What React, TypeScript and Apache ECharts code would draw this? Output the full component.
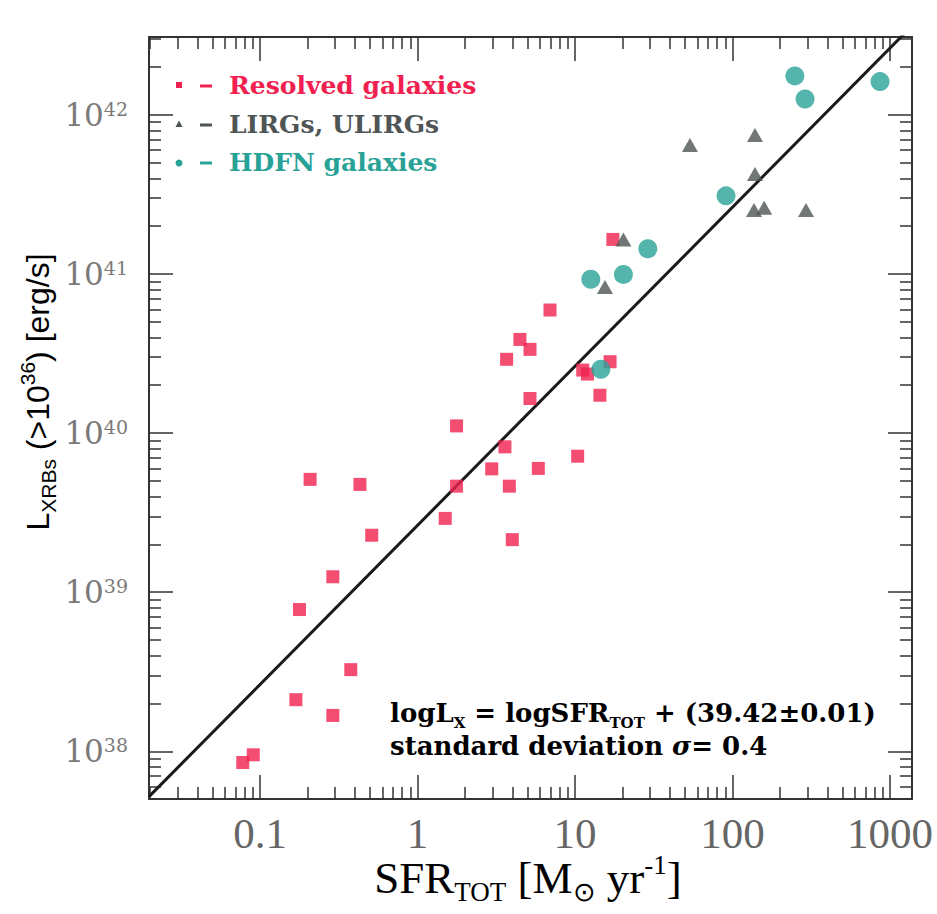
import React, { useEffect, useRef } from "react";
import * as echarts from "echarts";

// ---------------- data ----------------
const resolvedSFR = [6.94, 4.47, 5.18, 3.68, 16.7, 11.2, 12.0, 14.4, 5.18, 1.77, 3.59, 10.4, 2.96, 5.85, 0.208, 0.431, 1.77, 3.83, 1.5, 0.512, 4.0, 0.29, 0.178, 0.377, 0.169, 0.29, 0.0777, 0.0906, 17.4];
const resolvedLX = [5.94e40, 3.88e40, 3.36e40, 2.91e40, 2.81e40, 2.49e40, 2.35e40, 1.73e40, 1.65e40, 1.11e40, 8.2e39, 7.16e39, 5.96e39, 6.0e39, 5.12e39, 4.76e39, 4.64e39, 4.64e39, 2.91e39, 2.28e39, 2.14e39, 1.25e39, 7.78e38, 3.26e38, 2.11e38, 1.68e38, 8.5e37, 9.5e37, 1.65e41];

const lirgSFR = [53.7, 139, 139, 137, 159, 293, 20.3, 15.5];
const lirgLX = [6.47e41, 7.48e41, 4.26e41, 2.53e41, 2.61e41, 2.53e41, 1.65e41, 8.3e40];

const hdfnSFR = [249, 289, 865, 91, 29, 20.3, 12.6, 14.6];
const hdfnLX = [1.76e42, 1.26e42, 1.62e42, 3.1e41, 1.44e41, 9.95e40, 9.27e40, 2.52e40];

const FIT_SLOPE = 1;
const FIT_INTERCEPT = 39.42;

const xMajorTicks = [0.1, 1, 10, 100, 1000];
const xMajorLabels = ["0.1", "1", "10", "100", "1000"];
const yMajorExponents = [38, 39, 40, 41, 42];

const legendNames = ["Resolved galaxies", "LIRGs, ULIRGs", "HDFN galaxies"];

// axis extents in log10 units
const LOG_X_MIN = -1.705;
const LOG_X_MAX = 3.14;
const LOG_Y_MIN = 37.7;
const LOG_Y_MAX = 42.49;

// ---------------- styling ----------------
const RED = "#f0204f";
const GRAY = "#4e5554";
const TEAL = "#28a296";
const FRAME = "#333333";

function minorLogs(lo: number, hi: number): number[] {
  const out: number[] = [];
  for (let d = Math.floor(lo); d <= Math.ceil(hi); d++) {
    for (let m = 2; m <= 9; m++) {
      const v = d + Math.log10(m);
      if (v > lo && v < hi) out.push(v);
    }
  }
  return out;
}

const toPairs = (xs: number[], ys: number[]) =>
  xs.map((x, i) => [Math.log10(x), Math.log10(ys[i])]);

export default function App() {
  const ref = useRef<HTMLDivElement>(null);

  useEffect(() => {
    if (!ref.current) return;
    const chart = echarts.init(ref.current, null, { renderer: "svg" });

    const xMajorLogs = xMajorTicks.map((v) => Math.log10(v));
    const xMinorLogs = minorLogs(LOG_X_MIN, LOG_X_MAX);
    const yMajorLogs = yMajorExponents.slice();
    const yMinorLogs = minorLogs(LOG_Y_MIN, LOG_Y_MAX);

    const tickStyle = { color: FRAME, width: 1.5 };
    const lineStyle = { color: FRAME, width: 2 };

    const mkX = (position: string, ticks: number[], len: number, labels: boolean, line: boolean) => ({
      type: "value",
      position,
      min: LOG_X_MIN,
      max: LOG_X_MAX,
      axisLine: { show: line, onZero: false, lineStyle },
      axisTick: { show: true, inside: true, length: len, customValues: ticks, lineStyle: tickStyle },
      axisLabel: labels
        ? {
            show: true,
            customValues: xMajorLogs,
            margin: 13,
            fontFamily: "Liberation Serif",
            fontSize: 43,
            color: "#666666",
            formatter: (v: number) => {
              const i = xMajorLogs.findIndex((t) => Math.abs(t - v) < 1e-6);
              return i >= 0 ? xMajorLabels[i] : "";
            },
          }
        : { show: false },
      splitLine: { show: false },
    });

    const mkY = (position: string, ticks: number[], len: number, labels: boolean, line: boolean) => ({
      type: "value",
      position,
      min: LOG_Y_MIN,
      max: LOG_Y_MAX,
      axisLine: { show: line, onZero: false, lineStyle },
      axisTick: { show: true, inside: true, length: len, customValues: ticks, lineStyle: tickStyle },
      axisLabel: labels
        ? {
            show: true,
            customValues: yMajorLogs,
            margin: 21,
            formatter: (v: number) => `{b|10}{s|${Math.round(v)}}`,
            rich: {
              b: { fontFamily: "DejaVu Serif", fontSize: 31, color: "#7a7a7a", verticalAlign: "middle" },
              s: { fontFamily: "DejaVu Serif", fontSize: 19, color: "#7a7a7a", verticalAlign: "top" },
            },
          }
        : { show: false },
      splitLine: { show: false },
    });

    const legendY = [85, 124, 162];
    const legendColors = [RED, GRAY, TEAL];

    const graphic: any[] = [
      // y axis title
      {
        type: "text",
        x: 38,
        y: 392,
        rotation: Math.PI / 2,
        style: {
          text: "{m|L}{sub|XRBs}{m| (>10}{sup|36}{m|) [erg/s]}",
          align: "center",
          verticalAlign: "middle",
          rich: {
            m: { fontFamily: "Liberation Sans", fontSize: 32, lineHeight: 42, color: "#111", verticalAlign: "middle" },
            sub: { fontFamily: "Liberation Sans", fontSize: 21, color: "#111", verticalAlign: "bottom" },
            sup: { fontFamily: "Liberation Sans", fontSize: 21, color: "#111", verticalAlign: "top" },
          },
        },
      },
      // x axis title
      {
        type: "text",
        x: 528,
        y: 878,
        style: {
          text: "{m|SFR}{sub|TOT}{m| [M}{sub|⊙}{m| yr}{sup|-1}{m|]}",
          align: "center",
          verticalAlign: "middle",
          rich: {
            m: { fontFamily: "Liberation Serif", fontSize: 45, lineHeight: 54, color: "#555", verticalAlign: "middle" },
            sub: { fontFamily: "Liberation Serif", fontSize: 27, color: "#555", verticalAlign: "bottom" },
            sup: { fontFamily: "Liberation Serif", fontSize: 27, color: "#555", verticalAlign: "top" },
          },
        },
      },
      // legend markers
      { type: "rect", shape: { x: 176, y: legendY[0] - 3, width: 6, height: 6 }, style: { fill: RED } },
      {
        type: "polygon",
        shape: { points: [[179, legendY[1] - 3.5], [182.5, legendY[1] + 3], [175.5, legendY[1] + 3]] },
        style: { fill: GRAY },
      },
      { type: "circle", shape: { cx: 179, cy: legendY[2] + 1, r: 3.5 }, style: { fill: TEAL } },
      ...legendY.map((y, i) => ({
        type: "line",
        shape: { x1: 200, y1: y + 1, x2: 212, y2: y + 1 },
        style: { stroke: legendColors[i], lineWidth: 3 },
      })),
      ...legendNames.map((name, i) => ({
        type: "text",
        x: 229,
        y: legendY[i],
        style: {
          text: name,
          fontFamily: "DejaVu Serif",
          fontWeight: "bold",
          fontSize: 25,
          fill: legendColors[i],
          verticalAlign: "middle",
        },
      })),
      // fit annotation
      {
        type: "text",
        x: 390,
        y: 713,
        style: {
          text: "{a|logL}{s|X}{a| = logSFR}{s|TOT}{a| + (39.42±0.01)}",
          verticalAlign: "middle",
          rich: {
            a: { fontFamily: "DejaVu Serif", fontWeight: "bold", fontSize: 26, lineHeight: 34, color: "#333", verticalAlign: "middle" },
            s: { fontFamily: "DejaVu Serif", fontWeight: "bold", fontSize: 15, color: "#333", verticalAlign: "bottom" },
          },
        },
      },
      {
        type: "text",
        x: 390,
        y: 746,
        style: {
          text: "{a|standard deviation }{g|σ}{a|= 0.4}",
          verticalAlign: "middle",
          rich: {
            a: { fontFamily: "DejaVu Serif", fontWeight: "bold", fontSize: 26, color: "#333" },
            g: { fontFamily: "DejaVu Serif", fontWeight: "bold", fontStyle: "italic", fontSize: 26, color: "#333" },
          },
        },
      },
    ];

    chart.setOption({
      animation: false,
      backgroundColor: "#ffffff",
      grid: { left: 149, top: 37, width: 763, height: 762, containLabel: false, outerBoundsMode: "none" },
      xAxis: [
        mkX("bottom", xMajorLogs, 24, true, true),
        mkX("bottom", xMinorLogs, 12, false, false),
        mkX("top", xMajorLogs, 24, false, true),
        mkX("top", xMinorLogs, 12, false, false),
      ],
      yAxis: [
        mkY("left", yMajorLogs, 24, true, true),
        mkY("left", yMinorLogs, 12, false, false),
        mkY("right", yMajorLogs, 24, false, true),
        mkY("right", yMinorLogs, 12, false, false),
      ],
      graphic,
      series: [
        {
          name: "fit",
          type: "line",
          xAxisIndex: 0,
          yAxisIndex: 0,
          showSymbol: false,
          clip: true,
          lineStyle: { color: "#1a1a1a", width: 3 },
          data: [
            [LOG_X_MIN, FIT_SLOPE * LOG_X_MIN + FIT_INTERCEPT],
            [LOG_X_MAX, FIT_SLOPE * LOG_X_MAX + FIT_INTERCEPT],
          ],
          z: 1,
        },
        {
          name: legendNames[0],
          type: "scatter",
          symbol: "rect",
          symbolSize: 13,
          itemStyle: { color: RED },
          data: toPairs(resolvedSFR, resolvedLX),
          z: 2,
        },
        {
          name: legendNames[1],
          type: "scatter",
          symbol: "triangle",
          symbolSize: [16, 14],
          itemStyle: { color: GRAY },
          data: toPairs(lirgSFR, lirgLX),
          z: 3,
        },
        {
          name: legendNames[2],
          type: "scatter",
          symbol: "circle",
          symbolSize: 19,
          itemStyle: { color: TEAL },
          data: toPairs(hdfnSFR, hdfnLX),
          z: 4,
        },
      ],
    });

    return () => chart.dispose();
  }, []);

  return (
    <div
      ref={ref}
      style={{ position: "fixed", left: 0, top: 0, width: 937, height: 914 }}
    />
  );
}
